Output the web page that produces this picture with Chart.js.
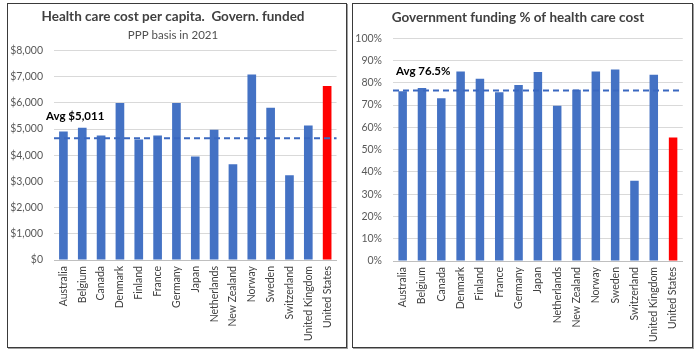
<!DOCTYPE html>
<html>
<head>
<meta charset="utf-8">
<script src="https://cdn.jsdelivr.net/npm/chart.js@4"></script>
<style>
  html, body { margin: 0; padding: 0; background: #ffffff; }
  body { width: 700px; height: 355px; position: relative; overflow: hidden; }
  .panel { position: absolute; box-sizing: border-box; border: 1px solid #3a3a3a; box-shadow: 1px 1px 0 #a0a0a0; background: #fff; }
  .panel canvas { position: absolute; left: 0; top: 0; }
</style>
</head>
<body>
<div class="panel" style="left:7px; top:3px; width:340px; height:345px;">
  <canvas id="c1" width="338" height="343" style="width:338px;height:343px"></canvas>
</div>
<div class="panel" style="left:352px; top:3px; width:341px; height:345px;">
  <canvas id="c2" width="339" height="343" style="width:339px;height:343px"></canvas>
</div>
<script>
// ---- data ----
const countries = ['Australia','Belgium','Canada','Denmark','Finland','France','Germany','Japan','Netherlands','New Zealand','Norway','Sweden','Switzerland','United Kingdom','United States'];
const costPerCapita = [4900, 5050, 4750, 5990, 4600, 4750, 5990, 3950, 4975, 3650, 7080, 5810, 3230, 5130, 6640];
const govFundingPct = [76.2, 77.6, 73.0, 85.1, 81.8, 75.7, 79.0, 84.8, 69.7, 76.9, 85.1, 86.0, 36.0, 83.6, 55.4];
const costAvgLine = [4650];
const costAvgLabel = ['Avg $5,011'];
const fundingAvgLine = [76.5];
const fundingAvgLabel = ['Avg 76.5%'];
const costTicks = [0, 1000, 2000, 3000, 4000, 5000, 6000, 7000, 8000];
const pctTicks = [0, 10, 20, 30, 40, 50, 60, 70, 80, 90, 100];
const highlightCountry = 'United States';

const BLUE = '#4472C4', RED = '#FF0000';
const barColors = countries.map(c => c === highlightCountry ? RED : BLUE);
const FONT = 'Lato';

const avgLinePlugin = {
  id: 'avgLine',
  afterDatasetsDraw(chart, args, opts) {
    const y = chart.scales.y.getPixelForValue(opts.value);
    const a = chart.chartArea;
    const ctx = chart.ctx;
    ctx.save();
    ctx.strokeStyle = '#3A68C0';
    ctx.lineWidth = 2;
    ctx.setLineDash([6, 4]);
    ctx.beginPath();
    ctx.moveTo(a.left, y);
    ctx.lineTo(a.right, y);
    ctx.stroke();
    ctx.setLineDash([]);
    ctx.fillStyle = '#000';
    ctx.font = 'bold 11.5px ' + FONT;
    ctx.textAlign = 'left';
    ctx.textBaseline = 'middle';
    ctx.fillText(opts.label, a.left + opts.dx, y - opts.dy);
    ctx.restore();
  }
};

function makeChart(id, values, ticksList, fmt, title, subtitle, avgVal, avgLbl, geo) {
  const yMax = ticksList[ticksList.length - 1];
  const step = ticksList[1] - ticksList[0];
  return new Chart(document.getElementById(id), {
    type: 'bar',
    data: {
      labels: countries,
      datasets: [{ data: values, backgroundColor: barColors, borderWidth: 0,
                   barPercentage: geo.barPct, categoryPercentage: 1 }]
    },
    options: {
      responsive: false,
      animation: false,
      events: [],
      layout: { padding: { left: 0, right: geo.padRight, top: 0, bottom: 0 } },
      plugins: {
        legend: { display: false },
        tooltip: { enabled: false },
        title: { display: true, text: title, color: '#404040',
                 font: { family: FONT, size: 13.5, weight: 'bold', lineHeight: 1.2 },
                 padding: { top: geo.t1, bottom: geo.b1 } },
        subtitle: { display: !!subtitle, text: subtitle || '', color: '#505050',
                 font: { family: FONT, size: 11.5, lineHeight: 1.2 },
                 padding: { top: geo.t2, bottom: geo.b2 } },
        avgLine: { value: avgVal, label: avgLbl, dx: geo.lblDx, dy: geo.lblDy }
      },
      scales: {
        x: {
          grid: { display: true, color: 'rgba(0,0,0,0)', drawTicks: false },
          border: { display: true, color: '#BFBFBF', width: 1 },
          ticks: { color: '#404040', font: { family: FONT, size: 10.5 }, padding: 6,
                   maxRotation: 90, minRotation: 90, autoSkip: false },
          afterFit: s => { s.height = geo.xH; }
        },
        y: {
          min: 0, max: yMax,
          grid: { color: '#D9D9D9', lineWidth: 1, drawTicks: false },
          border: { display: false },
          ticks: { stepSize: step, color: '#595959', font: { family: FONT, size: 10.5 },
                   padding: geo.yPad, callback: v => fmt(v) },
          afterFit: s => { s.width = geo.yW; }
        }
      }
    },
    plugins: [avgLinePlugin]
  });
}

makeChart('c1', costPerCapita, costTicks, v => '$' + v.toLocaleString('en-US'),
  'Health care cost per capita.  Govern. funded', 'PPP basis in 2021',
  costAvgLine[0], costAvgLabel[0],
  { barPct: 0.46, padRight: 8, t1: 5, b1: 0, t2: 3, b2: 8.4, xH: 87, yW: 46, yPad: 11, lblDx: -8, lblDy: 22 });

makeChart('c2', govFundingPct, pctTicks, v => v + '%',
  'Government funding % of health care cost', null,
  fundingAvgLine[0], fundingAvgLabel[0],
  { barPct: 0.44, padRight: 9, t1: 6, b1: 12, t2: 0, b2: 0, xH: 86, yW: 40, yPad: 11, lblDx: 3, lblDy: 19 });
</script>
</body>
</html>
